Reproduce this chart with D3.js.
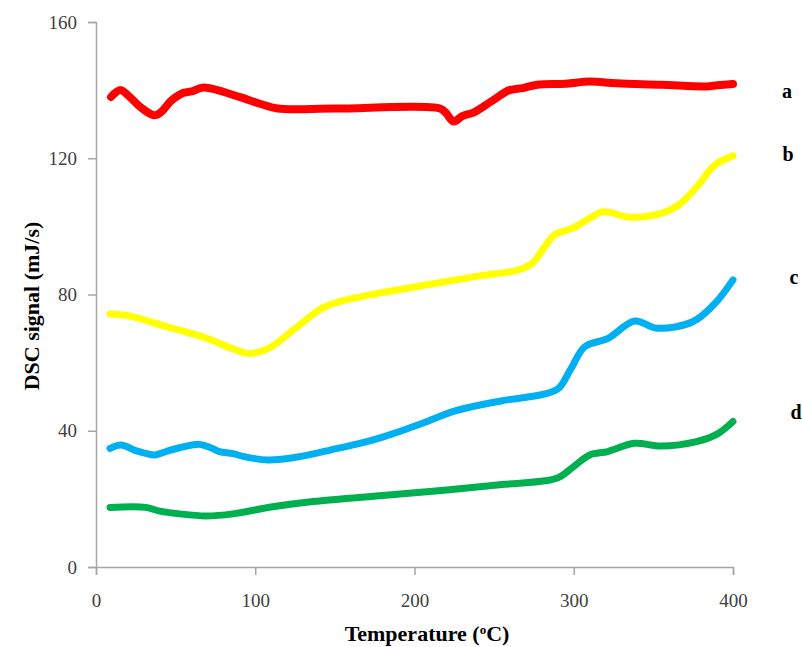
<!DOCTYPE html>
<html>
<head>
<meta charset="utf-8">
<script src="https://cdn.jsdelivr.net/npm/d3@7"></script>
<style>
  html, body { margin: 0; padding: 0; background: #fff; }
  svg { display: block; }
</style>
</head>
<body>
<svg id="chart" width="802" height="647"></svg>
<script>
// DSC thermograms of four samples (a–d): temperature (°C) vs signal (mJ/s)
const xTicks = [0, 100, 200, 300, 400];
const yTicks = [0, 40, 80, 120, 160];

const seriesA = [
  [9.4, 138], [15.5, 140], [20, 138.5], [28, 135], [36.5, 132.6], [41, 133.6],
  [47, 136.8], [55, 139.2], [60, 139.6], [67.7, 140.8], [90, 138], [103, 136],
  [114, 134.6], [150, 134.6], [216, 134.6], [219.5, 133.4], [224.7, 130.8],
  [230, 132.4], [237, 133.4], [248, 136.6], [259.7, 140], [268, 140.6],
  [277, 141.6], [295, 141.9], [310, 142.5], [327, 142], [355, 141.6],
  [383, 141.1], [390, 141.4], [400, 141.8]
];
const seriesB = [
  [8.8, 74.3], [20, 73.8], [45, 70.5], [70.5, 67], [85, 64.2], [95.8, 62.7],
  [108.4, 64.2], [125, 70], [142, 76], [153, 77.9], [180, 80.6], [210, 83],
  [240, 85.4], [265, 87.2], [274, 89.2], [281, 93.5], [288, 97.5],
  [299, 99.4], [308, 101.8], [318.6, 104.3], [335, 102.7], [355, 103.8],
  [366, 106.3], [378, 112], [388.6, 118], [400, 120.7]
];
const seriesC = [
  [8.8, 34.8], [15.7, 35.8], [26, 34], [36.9, 32.9], [43.9, 33.9], [55, 35.3],
  [65, 36], [72, 35], [77.5, 33.9], [86, 33.3], [93, 32.4], [108.4, 31.4],
  [128, 32.4], [147.6, 34.4], [165, 36.2], [181, 38.3], [205, 42.2],
  [226, 45.9], [255, 48.8], [282, 50.8], [290.6, 52.5], [298, 58],
  [307, 64.7], [321.5, 67.1], [338.2, 72.2], [352.3, 70.1], [374.7, 72],
  [388.7, 77.4], [400, 84.3]
];
const seriesD = [
  [8.8, 17.5], [31.3, 17.5], [40, 16.4], [52.3, 15.6], [69, 15], [86, 15.6],
  [110, 17.6], [136.3, 19.2], [180, 21], [220.4, 22.6], [255, 24.2],
  [282, 25.3], [290.6, 26.3], [300, 29.5], [310, 32.9], [321.4, 33.9],
  [338, 36.3], [354.8, 35.5], [377, 36.8], [390, 39], [400, 42.7]
];

const series = [
  { name: "a", color: "#ff0000", width: 8, values: seriesA, labelPos: [787, 98] },
  { name: "b", color: "#ffff00", width: 7, values: seriesB, labelPos: [788, 161] },
  { name: "c", color: "#00b0f0", width: 7, values: seriesC, labelPos: [794, 284] },
  { name: "d", color: "#00b050", width: 7, values: seriesD, labelPos: [796, 419] }
];

const margin = { left: 96, right: 69, top: 22, bottom: 80 };
const width = 802, height = 647;
const svg = d3.select("#chart");

const x = d3.scaleLinear().domain([0, 400]).range([margin.left, width - margin.right]);
const y = d3.scaleLinear().domain([0, 160]).range([height - margin.bottom, margin.top]);

const axisColor = "#a6a6a6";
const serif = "'Liberation Serif', 'DejaVu Serif', serif";

// X axis
const gx = svg.append("g")
  .attr("transform", `translate(0,${y(0)})`)
  .call(d3.axisBottom(x).tickValues(xTicks).tickSize(8).tickPadding(19));
// Y axis
const gy = svg.append("g")
  .attr("transform", `translate(${x(0)},0)`)
  .call(d3.axisLeft(y).tickValues(yTicks).tickSize(8).tickPadding(11));

[gx, gy].forEach(g => {
  g.select(".domain").attr("stroke", axisColor).attr("stroke-width", 1.5);
  g.selectAll(".tick line").attr("stroke", axisColor).attr("stroke-width", 1.5);
  g.selectAll(".tick text")
    .attr("fill", "#404040")
    .style("font-family", serif)
    .style("font-size", "19px");
});

// Curves
const line = d3.line()
  .x(d => x(d[0]))
  .y(d => y(d[1]))
  .curve(d3.curveCatmullRom.alpha(0.5));

svg.append("g").selectAll("path")
  .data(series)
  .join("path")
  .attr("d", d => line(d.values))
  .attr("fill", "none")
  .attr("stroke", d => d.color)
  .attr("stroke-width", d => d.width)
  .attr("stroke-linecap", "round")
  .attr("stroke-linejoin", "round");

// Series labels
svg.append("g").selectAll("text")
  .data(series)
  .join("text")
  .attr("x", d => d.labelPos[0])
  .attr("y", d => d.labelPos[1])
  .attr("text-anchor", "middle")
  .style("font-family", serif)
  .style("font-weight", "bold")
  .style("font-size", "20px")
  .attr("fill", "#000")
  .text(d => d.name);

// Axis titles
const xTitle = svg.append("text")
  .attr("x", 427)
  .attr("y", 641)
  .attr("text-anchor", "middle")
  .style("font-family", serif)
  .style("font-weight", "bold")
  .style("font-size", "22px")
  .attr("fill", "#000");
xTitle.append("tspan").text("Temperature (");
xTitle.append("tspan").attr("dy", -7).style("font-size", "13px").text("o");
xTitle.append("tspan").attr("dy", 7).text("C)");

svg.append("text")
  .attr("transform", `translate(39,306) rotate(-90)`)
  .attr("text-anchor", "middle")
  .style("font-family", serif)
  .style("font-weight", "bold")
  .style("font-size", "22px")
  .attr("fill", "#000")
  .text("DSC signal (mJ/s)");
</script>
</body>
</html>
